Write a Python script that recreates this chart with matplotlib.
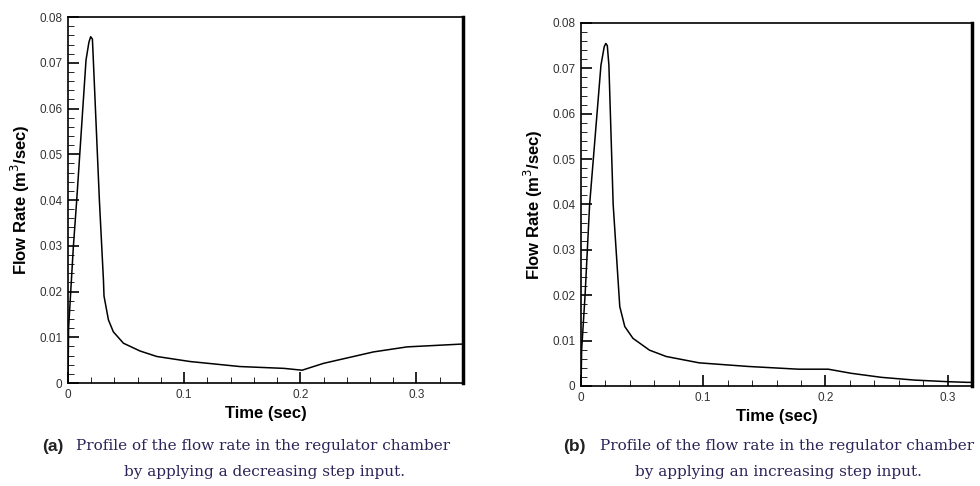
import numpy as np
import matplotlib
matplotlib.use('Agg')
import matplotlib.pyplot as plt
from matplotlib.ticker import MultipleLocator, FuncFormatter

# (a) decreasing step input
t_dec = [0.0, 0.0005, 0.0046, 0.0075, 0.0155, 0.018, 0.0195, 0.021, 0.0218,
         0.027, 0.0305, 0.031, 0.0348, 0.039, 0.0477, 0.062, 0.0764, 0.105,
         0.148, 0.186, 0.2015, 0.22, 0.263, 0.292, 0.338, 0.34]
q_dec = [0.0, 0.012, 0.0298, 0.040, 0.0706, 0.0745, 0.0757, 0.0752, 0.0706,
         0.040, 0.0225, 0.0190, 0.0138, 0.0112, 0.0087, 0.0070, 0.0058, 0.0047,
         0.0036, 0.0032, 0.0028, 0.0043, 0.0068, 0.0079, 0.0085, 0.0085]

# (b) increasing step input
t_inc = [0.0, 0.0005, 0.0033, 0.0070, 0.0163, 0.019, 0.0203, 0.0215, 0.0228,
         0.0263, 0.0311, 0.0317, 0.0358, 0.0425, 0.056, 0.0697, 0.0967,
         0.137, 0.178, 0.2024, 0.221, 0.246, 0.273, 0.30, 0.316, 0.32]
q_inc = [0.0, 0.008, 0.020, 0.0399, 0.0707, 0.0748, 0.0755, 0.0750, 0.0707,
         0.040, 0.020, 0.0175, 0.0131, 0.0105, 0.0079, 0.0065, 0.0051,
         0.0043, 0.0037, 0.0037, 0.0028, 0.0019, 0.0013, 0.00095, 0.0008, 0.0008]

caption_a = ["Profile of the flow rate in the regulator chamber",
             "by applying a decreasing step input."]
caption_b = ["Profile of the flow rate in the regulator chamber",
             "by applying an increasing step input."]

plt.rcParams['font.family'] = ['Liberation Sans', 'DejaVu Sans']

fig = plt.figure(figsize=(9.8, 4.86), dpi=100)
ax1 = fig.add_axes([0.0694, 0.2119, 0.403, 0.753])
ax2 = fig.add_axes([0.5929, 0.2058, 0.3989, 0.7469])


def fmt_y(v, pos):
    return '0' if abs(v) < 1e-9 else f'{v:.2f}'


def fmt_x(v, pos):
    return '0' if abs(v) < 1e-9 else f'{v:.1f}'


def style_axis(ax, xmax):
    ax.set_xlim(0, xmax)
    ax.set_ylim(0, 0.08)
    ax.xaxis.set_major_locator(MultipleLocator(0.1))
    ax.xaxis.set_minor_locator(MultipleLocator(0.02))
    ax.yaxis.set_major_locator(MultipleLocator(0.01))
    ax.yaxis.set_minor_locator(MultipleLocator(0.002))
    ax.xaxis.set_major_formatter(FuncFormatter(fmt_x))
    ax.yaxis.set_major_formatter(FuncFormatter(fmt_y))
    ax.tick_params(which='major', direction='in', length=8, width=1.2,
                   labelsize=8.5, labelcolor='#333333', pad=4)
    ax.tick_params(which='minor', direction='in', length=4, width=0.6)
    for side in ['left', 'bottom', 'top']:
        ax.spines[side].set_linewidth(1.2)
    ax.spines['right'].set_linewidth(2.5)
    ax.set_xlabel('Time (sec)', fontsize=12, fontweight='bold', labelpad=4)
    ax.set_ylabel('Flow Rate (m$^3$/sec)', fontsize=12, fontweight='bold',
                  labelpad=5)


ax1.plot(t_dec, q_dec, color='black', linewidth=1.1)
ax2.plot(t_inc, q_inc, color='black', linewidth=1.1)
style_axis(ax1, 0.34)
style_axis(ax2, 0.32)

cap_color = '#2b2458'
cap_font = 'DejaVu Serif'
cap_size = 11
fig.text(42 / 980, 1 - 446 / 486, '(a)', fontsize=12.5, fontweight='bold',
         color='#222222', va='center', ha='left')
fig.text(263 / 980, 1 - 446 / 486, caption_a[0], fontsize=cap_size,
         family=cap_font, color=cap_color, va='center', ha='center')
fig.text(264 / 980, 1 - 472 / 486, caption_a[1], fontsize=cap_size,
         family=cap_font, color=cap_color, va='center', ha='center')

fig.text(563 / 980, 1 - 446 / 486, '(b)', fontsize=12.5, fontweight='bold',
         color='#222222', va='center', ha='left')
fig.text(787 / 980, 1 - 446 / 486, caption_b[0], fontsize=cap_size,
         family=cap_font, color=cap_color, va='center', ha='center')
fig.text(778 / 980, 1 - 472 / 486, caption_b[1], fontsize=cap_size,
         family=cap_font, color=cap_color, va='center', ha='center')

fig.savefig('out.png', dpi=100)
plt.close(fig)
